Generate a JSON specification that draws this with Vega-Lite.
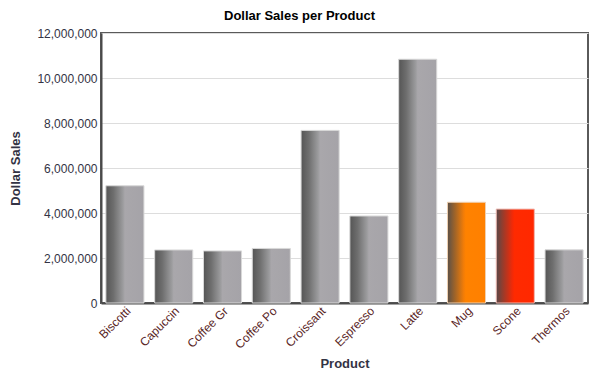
{
  "$schema": "https://vega.github.io/schema/vega-lite/v6.json",
  "width": 487,
  "height": 270,
  "autosize": {"type": "none"},
  "padding": {"left": 101, "top": 33, "right": 12, "bottom": 87},
  "background": "white",
  "title": {
    "text": "Dollar Sales per Product",
    "font": "Liberation Sans",
    "fontSize": 13,
    "fontWeight": "bold",
    "color": "#000000",
    "anchor": "middle",
    "dx": -45,
    "offset": 4
  },
  "config": {
    "view": {"stroke": "#5a5a5a", "strokeWidth": 2},
    "axis": {
      "labelFont": "Liberation Sans",
      "titleFont": "Liberation Sans",
      "labelFontSize": 12,
      "titleFontSize": 13,
      "titleFontWeight": "bold",
      "titleColor": "#333344"
    }
  },
  "data": {
    "values": [
      {"Product": "Biscotti", "Sales": 5210000},
      {"Product": "Capuccin", "Sales": 2358000},
      {"Product": "Coffee Gr", "Sales": 2314000},
      {"Product": "Coffee Po", "Sales": 2425000},
      {"Product": "Croissant", "Sales": 7672000},
      {"Product": "Espresso", "Sales": 3867000},
      {"Product": "Latte", "Sales": 10834000},
      {"Product": "Mug", "Sales": 4477000},
      {"Product": "Scone", "Sales": 4174000},
      {"Product": "Thermos", "Sales": 2362000}
    ]
  },
  "encoding": {
    "x": {
      "field": "Product",
      "type": "nominal",
      "sort": ["Biscotti", "Capuccin", "Coffee Gr", "Coffee Po", "Croissant", "Espresso", "Latte", "Mug", "Scone", "Thermos"],
      "scale": {"paddingInner": 0.22, "paddingOuter": 0.1},
      "axis": {
        "title": "Product",
        "labelAngle": -45,
        "labelAlign": "right",
        "labelBaseline": "top",
        "labelColor": "#5a2626",
        "labelPadding": 2,
        "ticks": false,
        "domainColor": "#4a4a4a",
        "domainWidth": 2,
        "titleBaseline": "alphabetic",
        "titleY": 64
      }
    },
    "y": {
      "field": "Sales",
      "type": "quantitative",
      "scale": {"domain": [0, 12000000], "nice": false},
      "axis": {
        "title": "Dollar Sales",
        "values": [0, 2000000, 4000000, 6000000, 8000000, 10000000, 12000000],
        "format": ",d",
        "labelColor": "#333344",
        "ticks": false,
        "labelPadding": 4,
        "domainColor": "#4a4a4a",
        "domainWidth": 2,
        "gridColor": "#dddddd",
        "titlePadding": 14
      }
    }
  },
  "layer": [
    {
      "transform": [{"filter": "datum.Product !== 'Mug' && datum.Product !== 'Scone'"}],
      "mark": {
        "type": "bar",
        "stroke": "#d8d8d8",
        "strokeWidth": 1,
        "color": {
          "gradient": "linear", "x1": 0, "x2": 1, "y1": 0, "y2": 0,
          "stops": [
            {"offset": 0, "color": "#555555"},
            {"offset": 0.2, "color": "#6e6e6e"},
            {"offset": 0.45, "color": "#9c9c9e"},
            {"offset": 0.5, "color": "#a9a7ab"},
            {"offset": 1, "color": "#a5a3a8"}
          ]
        }
      }
    },
    {
      "transform": [{"filter": "datum.Product === 'Mug'"}],
      "mark": {
        "type": "bar",
        "stroke": "#f0d0b0",
        "strokeWidth": 1,
        "color": {
          "gradient": "linear", "x1": 0, "x2": 1, "y1": 0, "y2": 0,
          "stops": [
            {"offset": 0, "color": "#5a5048"},
            {"offset": 0.2, "color": "#a06428"},
            {"offset": 0.42, "color": "#f07c08"},
            {"offset": 0.48, "color": "#ff8200"},
            {"offset": 1, "color": "#ff8000"}
          ]
        }
      }
    },
    {
      "transform": [{"filter": "datum.Product === 'Scone'"}],
      "mark": {
        "type": "bar",
        "stroke": "#f0b8b0",
        "strokeWidth": 1,
        "color": {
          "gradient": "linear", "x1": 0, "x2": 1, "y1": 0, "y2": 0,
          "stops": [
            {"offset": 0, "color": "#584848"},
            {"offset": 0.2, "color": "#a03a28"},
            {"offset": 0.42, "color": "#f02a08"},
            {"offset": 0.48, "color": "#ff2a00"},
            {"offset": 1, "color": "#ff2800"}
          ]
        }
      }
    }
  ]
}
